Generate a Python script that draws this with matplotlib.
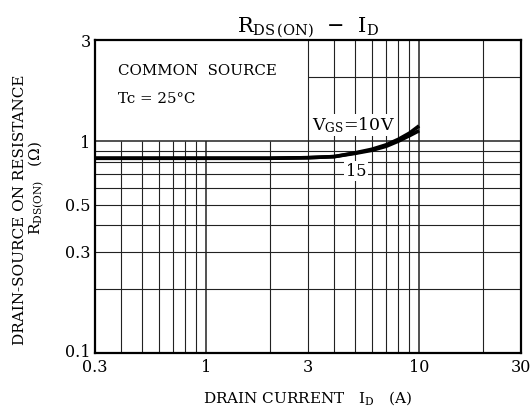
import matplotlib
matplotlib.use('Agg')
import matplotlib.pyplot as plt
from matplotlib.transforms import ScaledTranslation

# Drain current (A) and on-resistance (ohm)
drain_current = [0.3, 1, 2, 3, 4, 5, 6, 7, 8, 9, 10]
rds_vgs10 = [0.83, 0.83, 0.83, 0.835, 0.845, 0.88, 0.915, 0.96, 1.02, 1.09, 1.18]
rds_vgs15 = [0.83, 0.83, 0.83, 0.835, 0.845, 0.875, 0.905, 0.945, 1.0, 1.06, 1.12]

x_ticks = [0.3, 1, 3, 10, 30]
x_tick_labels = ['0.3', '1', '3', '10', '30']
y_ticks = [0.1, 0.3, 0.5, 1, 3]
y_tick_labels = ['0.1', '0.3', '0.5', '1', '3']

x_grid = [0.4, 0.5, 0.6, 0.7, 0.8, 0.9, 1, 2, 3, 4, 5, 6, 7, 8, 9, 10, 20]
y_grid = [0.2, 0.3, 0.4, 0.5, 0.6, 0.7, 0.8, 0.9, 1, 2]

plt.rcParams['font.family'] = ['DejaVu Serif']
plt.rcParams['mathtext.fontset'] = 'custom'
plt.rcParams['mathtext.rm'] = 'DejaVu Serif'
plt.rcParams['mathtext.it'] = 'DejaVu Serif'

fig = plt.figure(figsize=(5.32, 4.12), dpi=100)
ax = fig.add_axes([0.178, 0.1432, 0.8008, 0.7597])
ax.set_xscale('log')
ax.set_yscale('log')
ax.set_xlim(0.3, 30)
ax.set_ylim(0.1, 3)

# datasheet grid: the upper-left block (text area) is left blank
for x in x_grid:
    top = 3 if x >= 3 else 1
    lw = 1.1 if x in (1, 10) else 0.8
    ax.vlines(x, 0.1, top, color='#222222', lw=lw, zorder=1)
for y in y_grid:
    left = 3 if y > 1 else 0.3
    lw = 1.1 if y == 1 else 0.8
    ax.hlines(y, left, 30, color='#222222', lw=lw, zorder=1)

ax.plot(drain_current, rds_vgs10, color='black', lw=2.6, solid_capstyle='butt', zorder=3)
ax.plot(drain_current, rds_vgs15, color='black', lw=2.6, solid_capstyle='butt', zorder=3)

ax.text(4.9, 1.19, r'$\mathrm{V_{GS}}$=10V', fontsize=12.5, ha='center', va='center',
        bbox=dict(facecolor='white', edgecolor='none', pad=1.0), zorder=4)
ax.text(5.05, 0.722, '15', fontsize=11.5, ha='center', va='center',
        bbox=dict(facecolor='white', edgecolor='none', pad=1.0), zorder=4)

ax.text(0.385, 2.15, 'COMMON  SOURCE', fontsize=10.8, ha='left', va='center')
ax.text(0.385, 1.58, 'Tc = 25°C', fontsize=10.8, ha='left', va='center')

ax.set_xticks(x_ticks)
ax.set_xticklabels(x_tick_labels)
ax.set_yticks(y_ticks)
ax.set_yticklabels(y_tick_labels)
ax.minorticks_off()
ax.tick_params(length=0, labelsize=11.5, pad=3)
ax.tick_params(axis='x', pad=4)
# lift the bottom y label a little so it clears the 0.3 label
lbl = ax.get_yticklabels()[0]
lbl.set_transform(lbl.get_transform() + ScaledTranslation(0, 2 / 72, fig.dpi_scale_trans))
for s in ax.spines.values():
    s.set_linewidth(1.6)

ax.set_title(r'$\mathrm{R_{DS\,(ON)}}$  $-$  $\mathrm{I_D}$', fontsize=15, pad=5)
ax.set_xlabel(r'DRAIN CURRENT   $\mathrm{I_D}$   (A)', fontsize=11, labelpad=10)
fig.text(0.0376, 0.49, 'DRAIN-SOURCE ON RESISTANCE', rotation=90, fontsize=11,
         ha='center', va='center')
fig.text(0.067, 0.543, r'$\mathrm{R_{DS(ON)}}$   (Ω)', rotation=90, fontsize=11,
         ha='center', va='center')

fig.savefig('out.png', dpi=100)
